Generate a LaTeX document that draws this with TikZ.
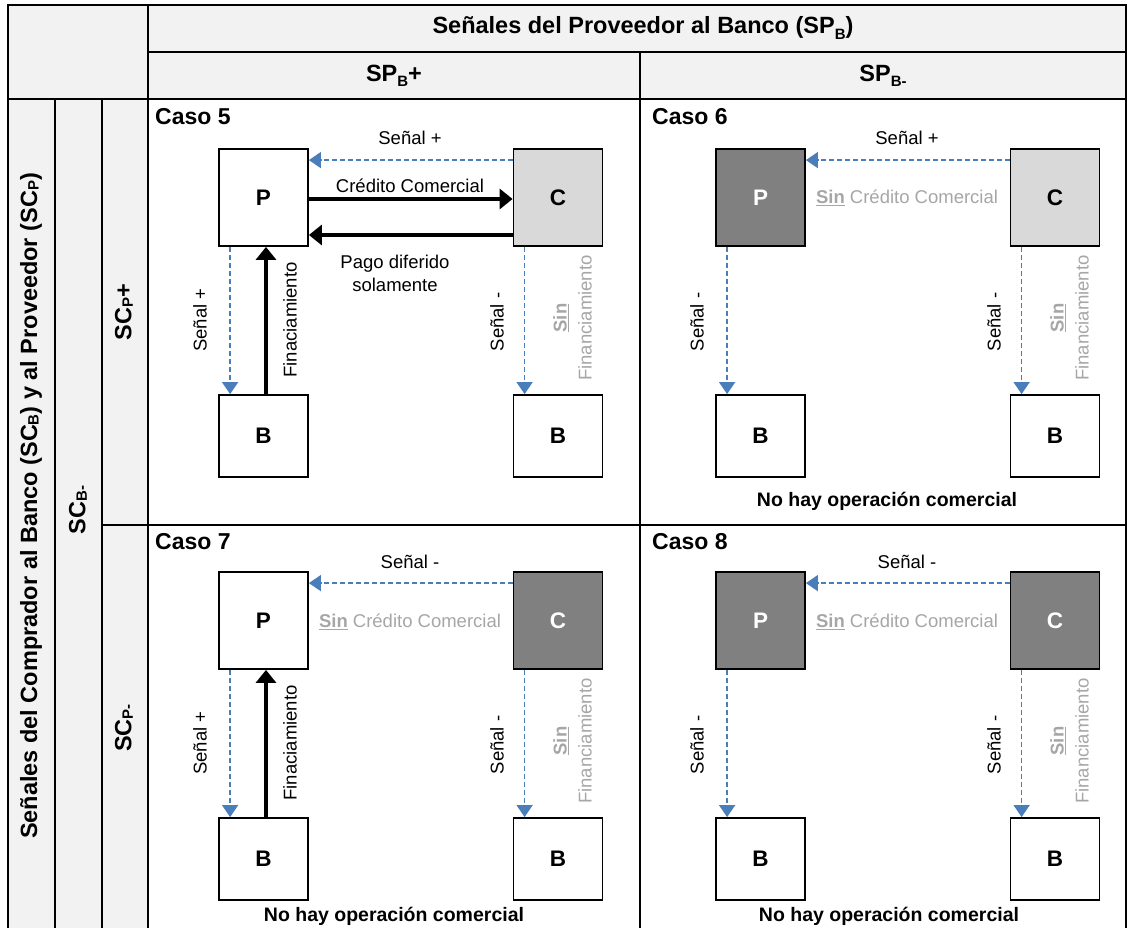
\documentclass[tikz,border=0pt]{standalone}
\usepackage{fontspec}
\setmainfont{Liberation Sans}
\usetikzlibrary{arrows.meta}
\definecolor{hdrgray}{HTML}{F2F2F2}
\definecolor{lightbox}{HTML}{D9D9D9}
\definecolor{darkbox}{HTML}{808080}
\definecolor{sigblue}{RGB}{74,126,187}
\definecolor{mutetext}{HTML}{A6A6A6}
% small letter sitting near the baseline (SC_B, SC_P)
\newcommand{\lowsub}[1]{\raisebox{-0.12ex}{\fontsize{15}{15}\selectfont #1}}
\newcommand{\hisub}[1]{\raisebox{-0.45ex}{\fontsize{15}{15}\selectfont #1}}

\begin{document}
\begin{tikzpicture}[x=1pt,y=-1pt,
  grid/.style={line width=1.8pt},
  thin grid/.style={line width=1.1pt},
  agent/.style={draw, line width=1.8pt, minimum width=89pt, minimum height=97pt,
    inner sep=0pt, font=\fontsize{22.5}{25}\selectfont\bfseries, fill=white},
  bank/.style={agent, minimum height=82pt},
  lightfill/.style={fill=lightbox},
  darkfill/.style={fill=darkbox, text=white},
  signal/.style={draw=sigblue, line width=1.4pt, dash pattern=on 5pt off 3pt,
    -{Triangle[length=12pt,width=16pt]}},
  flow/.style={draw=black, line width=3.8pt, -{Triangle[length=13pt,width=20pt]}},
  lbl/.style={font=\fontsize{18.5}{23}\selectfont, inner sep=0pt},
  vlbl/.style={lbl, rotate=90},
  nofin/.style={rotate=90, inner sep=0pt, align=center, text=mutetext,
    font=\fontsize{18.5}{25}\selectfont},
  mute/.style={text=mutetext},
  casetitle/.style={font=\fontsize{23}{26}\selectfont\bfseries, anchor=west, inner sep=0pt},
  hdr/.style={font=\fontsize{23.5}{27}\selectfont\bfseries, inner sep=0pt},
  note/.style={font=\fontsize{19.5}{22}\selectfont\bfseries, inner sep=0pt},
]
\useasboundingbox (0,0) rectangle (1127,928);

% ---------- table frame ----------
\fill[hdrgray] (8,5) rectangle (1126,99);
\fill[hdrgray] (8,99) rectangle (148,940);
\draw[grid] (8,5) rectangle (1126,940);
\draw[grid] (148,52) -- (1126,52);
\draw[grid] (8,99) -- (1126,99);
\draw[grid] (148,5) -- (148,940);
\draw[grid] (640,52) -- (640,99);
\draw[thin grid] (640,99) -- (640,940);
\draw[grid] (55,99) -- (55,940);
\draw[grid] (102,99) -- (102,940);
\draw[grid] (102,525) -- (1126,525);

% ---------- headers ----------
\node[hdr] (h0) at (643,28) {Señales del Proveedor al Banco (SP\hisub{B})};
\node[hdr] (h1) at (394,76) {SP\hisub{B}+};
\node[hdr] (h2) at (883,76) {SP\hisub{B-}};
\node[hdr, rotate=90] (v0) at (31,506)
  {Señales del Comprador al Banco (SC\lowsub{B}) y al Proveedor (SC\lowsub{P})};
\node[hdr, rotate=90] (v1) at (78,510) {SC\lowsub{B-}};
\node[hdr, rotate=90] (v2) at (124,312) {SC\lowsub{P}+};
\node[hdr, rotate=90] (v3) at (124,728) {SC\lowsub{P-}};

% ---------- Caso 5 ----------
\begin{scope}
  \node[casetitle] (t5) at (155,117) {Caso 5};
  \node[agent] (p5) at (263.5,197.5) {P};
  \node[agent, lightfill] (c5) at (558,197.5) {C};
  \node[bank] (bp5) at (263.5,436) {B};
  \node[bank] (bc5) at (558,436) {B};
  \draw[signal] ([yshift=-12pt]c5.north west) -- ([yshift=-12pt]p5.north east);
  \node[lbl] (s5) at (410,138) {Señal +};
  \draw[flow] ([yshift=-1.5pt]p5.east) -- ([yshift=-1.5pt]c5.west);
  \node[lbl] (cc5) at (410,186) {Crédito Comercial};
  \draw[flow] ([yshift=-37.5pt]c5.west) -- ([yshift=-37.5pt]p5.east);
  \node[lbl, align=center] (pd5) at (395,273.5) {Pago diferido\\solamente};
  \draw[signal] ([xshift=12pt]p5.south west) -- ([xshift=12pt]bp5.north west);
  \node[vlbl] (sl5) at (200,320) {Señal +};
  \draw[flow] ([xshift=2.5pt]bp5.north) -- ([xshift=2.5pt]p5.south);
  \node[vlbl] (f5) at (290,320) {Finaciamiento};
  \draw[signal] ([xshift=12pt]c5.south west) -- ([xshift=12pt]bc5.north west);
  \node[vlbl] (sr5) at (497,322) {Señal -};
  \node[nofin] (nf5) at (572.5,318) {\underline{\textbf{Sin}}\\Financiamiento};
\end{scope}

% ---------- Caso 6 ----------
\begin{scope}[shift={(497,0)}]
  \node[casetitle] (t6) at (155,117) {Caso 6};
  \node[agent, darkfill] (p6) at (263.5,197.5) {P};
  \node[agent, lightfill] (c6) at (558,197.5) {C};
  \node[bank] (bp6) at (263.5,436) {B};
  \node[bank] (bc6) at (558,436) {B};
  \draw[signal] ([yshift=-12pt]c6.north west) -- ([yshift=-12pt]p6.north east);
  \node[lbl] (s6) at (410,138) {Señal +};
  \node[lbl, mute] (cc6) at (410,198) {\underline{\textbf{Sin}} Crédito Comercial};
  \draw[signal] ([xshift=12pt]p6.south west) -- ([xshift=12pt]bp6.north west);
  \node[vlbl] (sl6) at (200,322) {Señal -};
  \draw[signal] ([xshift=12pt]c6.south west) -- ([xshift=12pt]bc6.north west);
  \node[vlbl] (sr6) at (497,322) {Señal -};
  \node[nofin] (nf6) at (572.5,318) {\underline{\textbf{Sin}}\\Financiamiento};
  \node[note] (n6) at (390,501) {No hay operación comercial};
\end{scope}

% ---------- Caso 7 ----------
\begin{scope}[shift={(0,423)}]
  \node[casetitle] (t7) at (155,119) {Caso 7};
  \node[agent] (p7) at (263.5,197.5) {P};
  \node[agent, darkfill] (c7) at (558,197.5) {C};
  \node[bank] (bp7) at (263.5,436) {B};
  \node[bank] (bc7) at (558,436) {B};
  \draw[signal] ([yshift=-12pt]c7.north west) -- ([yshift=-12pt]p7.north east);
  \node[lbl] (s7) at (410,139) {Señal -};
  \node[lbl, mute] (cc7) at (410,199) {\underline{\textbf{Sin}} Crédito Comercial};
  \draw[signal] ([xshift=12pt]p7.south west) -- ([xshift=12pt]bp7.north west);
  \node[vlbl] (sl7) at (200,320) {Señal +};
  \draw[flow] ([xshift=2.5pt]bp7.north) -- ([xshift=2.5pt]p7.south);
  \node[vlbl] (f7) at (290,320) {Finaciamiento};
  \draw[signal] ([xshift=12pt]c7.south west) -- ([xshift=12pt]bc7.north west);
  \node[vlbl] (sr7) at (497,322) {Señal -};
  \node[nofin] (nf7) at (572.5,318) {\underline{\textbf{Sin}}\\Financiamiento};
  \node[note] (n7) at (394,493) {No hay operación comercial};
\end{scope}

% ---------- Caso 8 ----------
\begin{scope}[shift={(497,423)}]
  \node[casetitle] (t8) at (155,119) {Caso 8};
  \node[agent, darkfill] (p8) at (263.5,197.5) {P};
  \node[agent, darkfill] (c8) at (558,197.5) {C};
  \node[bank] (bp8) at (263.5,436) {B};
  \node[bank] (bc8) at (558,436) {B};
  \draw[signal] ([yshift=-12pt]c8.north west) -- ([yshift=-12pt]p8.north east);
  \node[lbl] (s8) at (410,139) {Señal -};
  \node[lbl, mute] (cc8) at (410,199) {\underline{\textbf{Sin}} Crédito Comercial};
  \draw[signal] ([xshift=12pt]p8.south west) -- ([xshift=12pt]bp8.north west);
  \node[vlbl] (sl8) at (200,322) {Señal -};
  \draw[signal] ([xshift=12pt]c8.south west) -- ([xshift=12pt]bc8.north west);
  \node[vlbl] (sr8) at (497,322) {Señal -};
  \node[nofin] (nf8) at (572.5,318) {\underline{\textbf{Sin}}\\Financiamiento};
  \node[note] (n8) at (392,493) {No hay operación comercial};
\end{scope}
\end{tikzpicture}
\end{document}
